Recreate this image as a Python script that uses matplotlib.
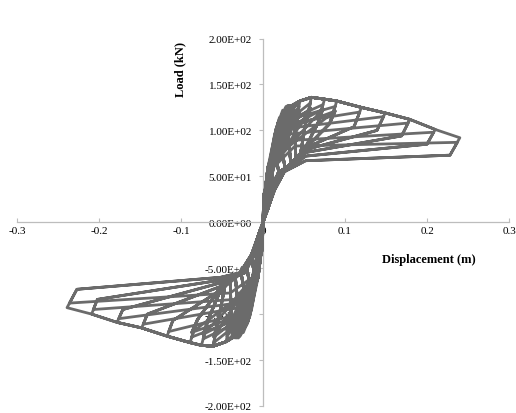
import matplotlib
matplotlib.use("Agg")
import matplotlib.pyplot as plt
from matplotlib.ticker import FuncFormatter

# ----------------------------------------------------------------------------------------------
# Data: one entry per displacement amplitude (m, kN)
# ----------------------------------------------------------------------------------------------
n_cycles = [4, 4, 4, 4, 4, 4, 4, 4, 4, 2, 2, 2, 2, 2]

# positive excursions
pos_disp = [0.006, 0.012, 0.018, 0.025, 0.035, 0.045, 0.059, 0.075, 0.090, 0.120, 0.149, 0.179, 0.210, 0.240]
pos_peak1 = [45, 75, 98, 115, 127, 132, 136, 134, 132, 125, 119, 112, 101, 92]
pos_disp2 = [0.006, 0.012, 0.018, 0.025, 0.034, 0.044, 0.058, 0.073, 0.088, 0.118, 0.147, 0.177, 0.208, 0.237]
pos_peak2 = [40, 68, 90, 106, 121, 126, 130, 128, 126, 120, 115, 108, 98, 87]
pos_peak3 = [37, 63, 84, 100, 115, 120, 124, 123, 121, 116, 111, 104, 94, 84]
pos_corner_disp = [0.005, 0.010, 0.015, 0.021, 0.030, 0.039, 0.052, 0.067, 0.081, 0.111, 0.139, 0.169, 0.200, 0.228]
pos_corner_load = [35, 58, 76, 90, 100, 104, 108, 108, 107, 104, 100, 94, 85, 73]
pos_return_disp = [0.008, 0.014, 0.020, 0.027, 0.034, 0.040, 0.045, 0.048, 0.050, 0.052, 0.052, 0.052, 0.052, 0.052]
pos_return_load = [22, 40, 50, 58, 63, 67, 71, 75, 79, 81, 79, 76, 72, 67]
pos_knee_disp = [0.004, 0.007, 0.010, 0.012, 0.014, 0.016, 0.018, 0.020, 0.022, 0.024, 0.026, 0.028, 0.030, 0.032]
pos_knee_load = [35, 55, 72, 85, 95, 102, 108, 110, 110, 108, 106, 104, 102, 100]
pos_shoulder_disp = [0.005, 0.009, 0.013, 0.016, 0.020, 0.024, 0.028, 0.030, 0.032, 0.034, 0.035, 0.036, 0.037, 0.038]
pos_shoulder_load = [40, 66, 86, 102, 114, 122, 126, 127, 127, 127, 126, 126, 125, 125]
pos_knee2_disp = [0.004, 0.008, 0.011, 0.014, 0.017, 0.019, 0.021, 0.023, 0.025, 0.027, 0.029, 0.031, 0.034, 0.039]
pos_knee2_load = [33, 52, 66, 78, 88, 96, 104, 108, 110, 107, 102, 96, 89, 83]
pos_mid_disp = [0.005, 0.009, 0.013, 0.017, 0.021, 0.024, 0.027, 0.030, 0.032, 0.034, 0.036, 0.038, 0.040, 0.042]
pos_mid_load = [30, 48, 60, 68, 74, 78, 80, 82, 83, 83, 82, 81, 79, 77]
pos_mid2_disp = [0.004, 0.007, 0.010, 0.013, 0.016, 0.018, 0.020, 0.022, 0.024, 0.026, 0.028, 0.030, 0.032, 0.034]
pos_mid2_load = [32, 52, 68, 80, 88, 93, 97, 99, 100, 99, 97, 95, 93, 91]
pos_head_x30 = [0.001, 0.001, 0.002, 0.002, 0.003, 0.003, 0.003, 0.004, 0.004, 0.004, 0.005, 0.005, 0.005, 0.006]
pos_head_x60 = [0.004, 0.005, 0.006, 0.006, 0.007, 0.008, 0.008, 0.009, 0.010, 0.010, 0.011, 0.012, 0.012, 0.013]
pos_tail_x55 = [0.016, 0.017, 0.018, 0.019, 0.020, 0.021, 0.022, 0.023, 0.024, 0.024, 0.025, 0.025, 0.026, 0.026]
pos_tail_x35 = [0.009, 0.009, 0.010, 0.010, 0.011, 0.011, 0.012, 0.012, 0.012, 0.013, 0.013, 0.013, 0.014, 0.014]
pos_tail_x15 = [0.004, 0.004, 0.004, 0.005, 0.005, 0.005, 0.005, 0.005, 0.006, 0.006, 0.006, 0.006, 0.006, 0.006]

# negative excursions
neg_disp = [-0.006, -0.012, -0.018, -0.025, -0.035, -0.045, -0.061, -0.075, -0.089, -0.117, -0.148, -0.178, -0.209, -0.239]
neg_peak1 = [-45, -75, -98, -113, -124, -130, -135, -134, -131, -124, -115, -109, -100, -93]
neg_disp2 = [-0.006, -0.012, -0.018, -0.025, -0.034, -0.044, -0.060, -0.073, -0.087, -0.115, -0.146, -0.176, -0.207, -0.236]
neg_peak2 = [-40, -68, -90, -104, -118, -124, -131, -127, -125, -119, -111, -105, -95, -88]
neg_peak3 = [-37, -63, -84, -98, -112, -118, -125, -122, -120, -115, -107, -101, -92, -84]
neg_corner_disp = [-0.005, -0.010, -0.015, -0.021, -0.030, -0.039, -0.054, -0.067, -0.080, -0.110, -0.141, -0.171, -0.202, -0.227]
neg_corner_load = [-35, -58, -75, -88, -96, -100, -104, -106, -106, -107, -100, -95, -84, -73]
neg_return_disp = [-0.008, -0.014, -0.020, -0.027, -0.034, -0.040, -0.045, -0.048, -0.050, -0.052, -0.052, -0.052, -0.052, -0.052]
neg_return_load = [-22, -40, -48, -53, -57, -60, -63, -66, -69, -74, -70, -66, -63, -60]
neg_knee_disp = [-0.004, -0.007, -0.010, -0.012, -0.014, -0.016, -0.018, -0.020, -0.022, -0.024, -0.026, -0.028, -0.030, -0.032]
neg_knee_load = [-35, -55, -72, -85, -95, -102, -108, -110, -110, -108, -106, -104, -100, -97]
neg_shoulder_disp = [-0.005, -0.009, -0.013, -0.016, -0.020, -0.024, -0.028, -0.030, -0.032, -0.034, -0.035, -0.036, -0.037, -0.038]
neg_shoulder_load = [-40, -66, -86, -101, -112, -120, -124, -126, -126, -126, -125, -125, -124, -124]
neg_knee2_disp = [-0.004, -0.008, -0.011, -0.014, -0.017, -0.019, -0.022, -0.024, -0.026, -0.028, -0.030, -0.032, -0.035, -0.040]
neg_knee2_load = [-33, -52, -66, -78, -88, -96, -104, -106, -104, -100, -93, -88, -84, -77]
neg_mid_disp = [-0.005, -0.009, -0.013, -0.017, -0.021, -0.024, -0.027, -0.030, -0.032, -0.034, -0.036, -0.038, -0.040, -0.042]
neg_mid_load = [-30, -48, -60, -68, -74, -78, -80, -82, -83, -83, -82, -81, -79, -77]
neg_mid2_disp = [-0.004, -0.007, -0.010, -0.013, -0.016, -0.018, -0.020, -0.022, -0.024, -0.026, -0.028, -0.030, -0.032, -0.034]
neg_mid2_load = [-32, -52, -68, -80, -88, -93, -97, -99, -100, -99, -97, -95, -93, -91]
neg_head_x30 = [-0.001, -0.001, -0.002, -0.002, -0.003, -0.003, -0.003, -0.004, -0.004, -0.004, -0.005, -0.005, -0.005, -0.006]
neg_head_x60 = [-0.004, -0.005, -0.006, -0.006, -0.007, -0.008, -0.008, -0.009, -0.010, -0.010, -0.011, -0.012, -0.012, -0.013]
neg_tail_x55 = [-0.018, -0.019, -0.020, -0.021, -0.022, -0.023, -0.024, -0.025, -0.026, -0.026, -0.027, -0.027, -0.028, -0.028]
neg_tail_x35 = [-0.009, -0.009, -0.010, -0.010, -0.011, -0.011, -0.012, -0.012, -0.012, -0.013, -0.013, -0.013, -0.014, -0.014]
neg_tail_x15 = [-0.004, -0.004, -0.004, -0.005, -0.005, -0.005, -0.005, -0.005, -0.006, -0.006, -0.006, -0.006, -0.006, -0.006]

x_ticks = [-0.3, -0.2, -0.1, 0.0, 0.1, 0.2, 0.3]
x_tick_labels = ["-0.3", "-0.2", "-0.1", "0", "0.1", "0.2", "0.3"]
y_ticks = [-200, -150, -100, -50, 0, 50, 100, 150, 200]

pos = dict(tips=[(pos_disp, pos_peak1), (pos_disp2, pos_peak2), (pos_disp2, pos_peak3), (pos_disp2, pos_peak3)],
           knees=[(pos_knee_disp, pos_knee_load), (pos_knee2_disp, pos_knee2_load),
                  (pos_mid_disp, pos_mid_load), (pos_mid2_disp, pos_mid2_load)],
           cx=pos_corner_disp, cy=pos_corner_load, rx=pos_return_disp, ry=pos_return_load,
           sx=pos_shoulder_disp, sy=pos_shoulder_load,
           h30=pos_head_x30, h60=pos_head_x60, t55=pos_tail_x55, t35=pos_tail_x35, t15=pos_tail_x15, s=1)
neg = dict(tips=[(neg_disp, neg_peak1), (neg_disp2, neg_peak2), (neg_disp2, neg_peak3), (neg_disp2, neg_peak3)],
           knees=[(neg_knee_disp, neg_knee_load), (neg_knee2_disp, neg_knee2_load),
                  (neg_mid_disp, neg_mid_load), (neg_mid2_disp, neg_mid2_load)],
           cx=neg_corner_disp, cy=neg_corner_load, rx=neg_return_disp, ry=neg_return_load,
           sx=neg_shoulder_disp, sy=neg_shoulder_load,
           h30=neg_head_x30, h60=neg_head_x60, t55=neg_tail_x55, t35=neg_tail_x35, t15=neg_tail_x15, s=-1)


def half_cycle(d, k, cyc):
    s = d["s"]
    kx, ky = d["knees"][cyc]
    knee = (kx[k], ky[k])
    tx_, ty_ = d["tips"][cyc]
    tip = (tx_[k], ty_[k])

    pts = []
    for hx, hy in [(d["h30"][k], 30 * s), (d["h60"][k], 60 * s)]:
        if abs(hy) < abs(knee[1]) and abs(hx) < abs(knee[0]):
            pts.append((hx, hy))
    pts.append(knee)
    if cyc == 0:
        # first cycle climbs along the backbone through the earlier peaks
        shoulder = (d["sx"][k], d["sy"][k])
        if abs(knee[0]) < abs(shoulder[0]) < abs(tip[0]):
            pts.append(shoulder)
        bx, by = d["tips"][0]
        for j in range(k):
            if abs(bx[j]) > abs(pts[-1][0]) and abs(by[j]) > abs(knee[1]):
                pts.append((bx[j], by[j]))
    pts.append(tip)
    pts.append((d["cx"][k], d["cy"][k]))
    ret = (d["rx"][k], d["ry"][k])
    pts.append(ret)
    for tx, ty in [(d["t55"][k], 55 * s), (d["t35"][k], 35 * s), (d["t15"][k], 15 * s)]:
        if abs(tx) < abs(ret[0]) and abs(ty) < abs(ret[1]):
            pts.append((tx, ty))
    pts.append((0.0, 0.0))
    return pts


# ----------------------------------------------------------------------------------------------
# Build the load history
# ----------------------------------------------------------------------------------------------
disp = [0.0]
load = [0.0]
for k in range(len(pos_disp)):
    for cyc in range(n_cycles[k]):
        for side in (pos, neg):
            for x, y in half_cycle(side, k, cyc):
                disp.append(x)
                load.append(y)

# ----------------------------------------------------------------------------------------------
# Plot
# ----------------------------------------------------------------------------------------------
plt.rcParams["font.family"] = ["Liberation Serif", "DejaVu Serif"]
fig = plt.figure(figsize=(5.16, 4.14), dpi=100)
ax = fig.add_axes([0.033, 0.017, 0.9535, 0.8875])

ax.plot(disp, load, color="#6b6b6b", linewidth=2.0, solid_joinstyle="round", zorder=3)

ax.set_xlim(-0.3, 0.3)
ax.set_ylim(-200, 200)
ax.spines["left"].set_position("zero")
ax.spines["bottom"].set_position("zero")
ax.spines["top"].set_visible(False)
ax.spines["right"].set_visible(False)
for side in ["left", "bottom"]:
    ax.spines[side].set_color("#bdbdbd")
    ax.spines[side].set_linewidth(0.9)

ax.set_xticks(x_ticks)
ax.set_xticklabels(x_tick_labels)
ax.set_yticks(y_ticks)
ax.yaxis.set_major_formatter(FuncFormatter(lambda v, pos: f"{v:.2E}"))
ax.tick_params(axis="y", direction="out", length=3, width=0.8, color="#bdbdbd", pad=5, labelsize=8)
ax.tick_params(axis="x", direction="in", length=3, width=0.8, color="#bdbdbd", pad=3, labelsize=8)
for lab in ax.get_yticklabels():
    lab.set_bbox(dict(facecolor="white", edgecolor="none", pad=0.3))

fig.text(0.349, 0.831, "Load (kN)", rotation=90, fontsize=9, fontweight="bold", ha="center", va="center")
fig.text(0.831, 0.372, "Displacement (m)", fontsize=9, fontweight="bold", ha="center", va="center")

fig.savefig("out.png", dpi=100)
